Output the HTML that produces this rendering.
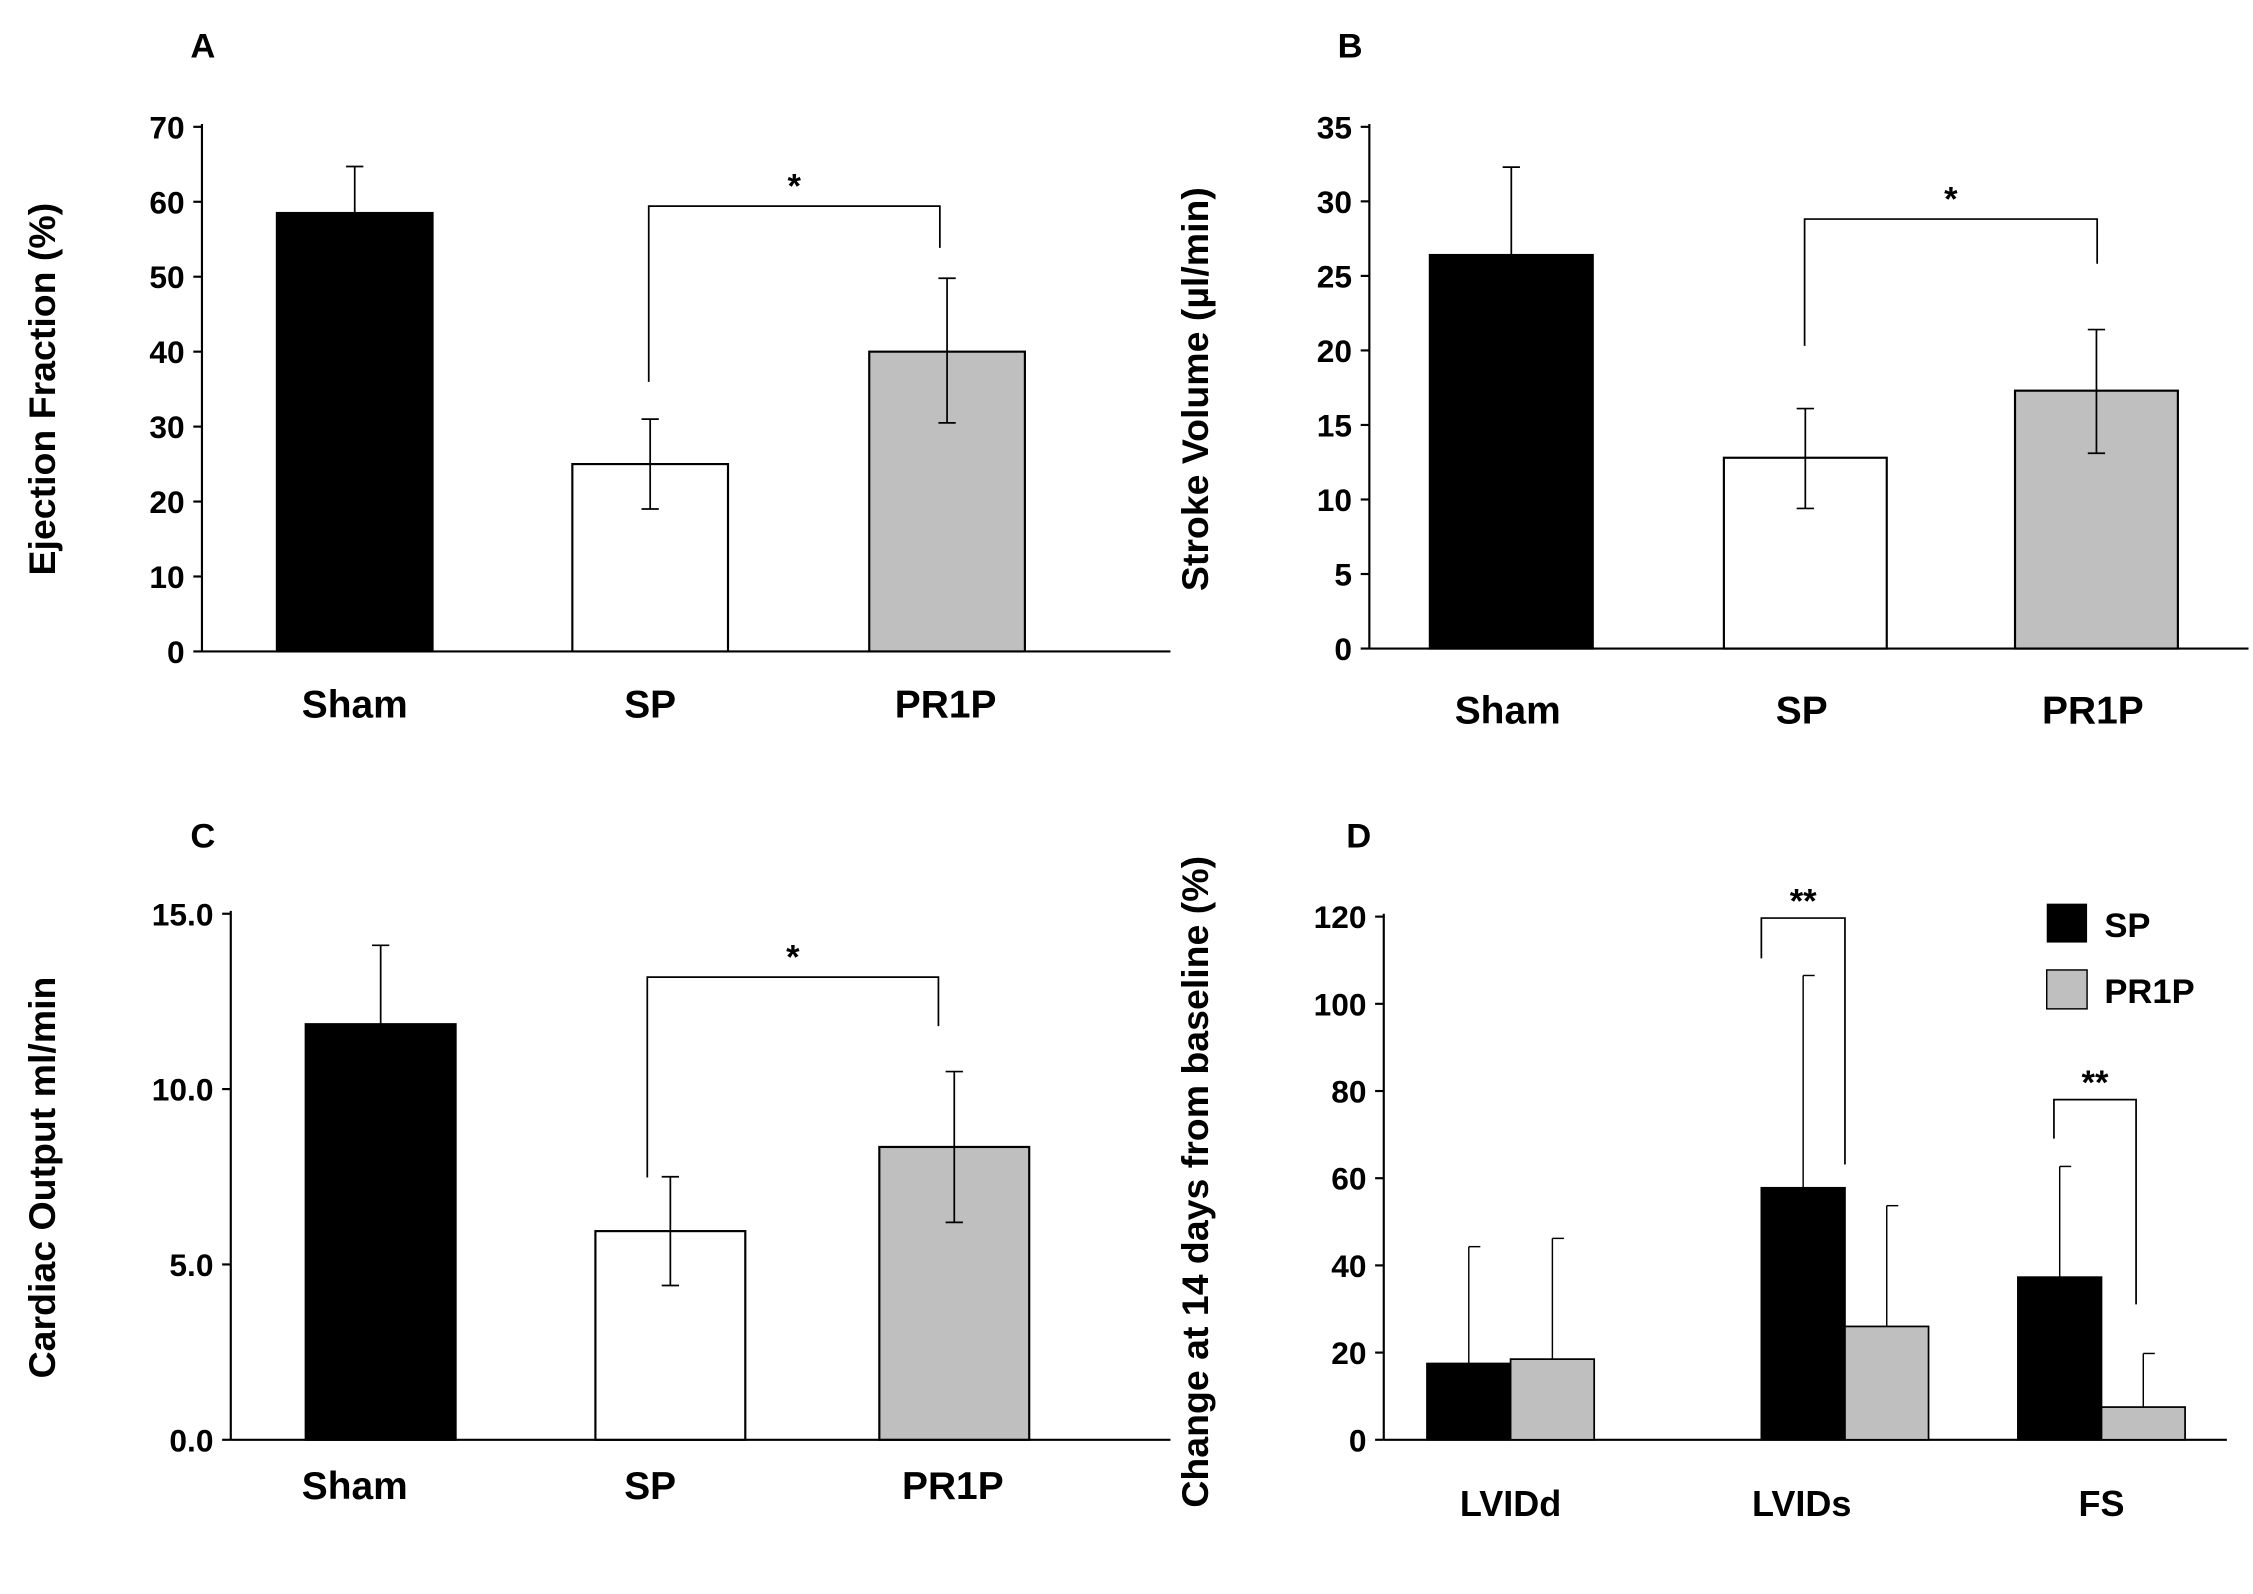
<!DOCTYPE html>
<html><head><meta charset="utf-8"><style>
html,body{margin:0;padding:0;background:#fff}
svg{display:block}
text{font-family:"Liberation Sans",Arial,sans-serif;font-weight:bold;fill:#000}
</style></head><body>
<svg id="fig" width="2253" height="1594" viewBox="0 0 1563 1106" xmlns="http://www.w3.org/2000/svg"></svg>
<script>
// Panel A
const aCats=["Sham","SP","PR1P"], aVals=[58.5,25,40], aErrHi=[64.7,31,49.8], aErrLo=[58.5,19,30.5];
// Panel B
const bCats=["Sham","SP","PR1P"], bVals=[26.4,12.8,17.3], bErrHi=[32.3,16.1,21.4], bErrLo=[26.4,9.4,13.1];
// Panel C
const cCats=["Sham","SP","PR1P"], cVals=[11.85,5.95,8.35], cErrHi=[14.1,7.5,10.5], cErrLo=[11.85,4.4,6.2];
// Panel D
const dCats=["LVIDd","LVIDs","FS"], dSP=[17.5,57.8,37.3], dSPErr=[44.3,106.5,62.7], dPR=[18.5,26,7.5], dPRErr=[46.2,53.7,19.8];
const aTicks=[0,10,20,30,40,50,60,70], bTicks=[0,5,10,15,20,25,30,35], cTicks=[0,5,10,15], dTicks=[0,20,40,60,80,100,120];
const fills=["#000","#fff","#bfbfbf"];
const svg=document.getElementById('fig');
const NS="http://www.w3.org/2000/svg";
function el(t,a,txt){const e=document.createElementNS(NS,t);for(const k in a)e.setAttribute(k,a[k]);if(txt!==undefined)e.textContent=txt;svg.appendChild(e);return e;}
function axes(p,ticks,fmt,name){
  const ax=el('line',{x1:p.x0,y1:p.yTop-2,x2:p.x0,y2:p.y0,stroke:'#000','stroke-width':1.5});
  
  const xa=el('line',{x1:p.x0,y1:p.y0,x2:p.xEnd,y2:p.y0,stroke:'#000','stroke-width':1.5});
  
  ticks.forEach(t=>{const y=p.y(t);
    el('line',{x1:p.x0-6,y1:y,x2:p.x0,y2:y,stroke:'#000','stroke-width':1.5});
    const l=el('text',{x:p.x0-12,y:y+8,'text-anchor':'end','font-size':22},fmt(t));
    });
}
function scale(y0,yTop,max){return v=>y0-(y0-yTop)*v/max;}
function panel3(name,p,cats,vals,hi,lo,bx,bw,lx,ly,br){
  cats.forEach((c,i)=>{
    const y=p.y(vals[i]);
    const r=el('rect',{x:bx[i],y:y,width:bw,height:p.y0-y,fill:fills[i],stroke:'#000','stroke-width':1.5});
    
    const cx=bx[i]+bw/2;
    el('line',{x1:cx,y1:p.y(hi[i]),x2:cx,y2:p.y(lo[i]),stroke:'#000','stroke-width':1.2});
    el('line',{x1:cx-6,y1:p.y(hi[i]),x2:cx+6,y2:p.y(hi[i]),stroke:'#000','stroke-width':1.2});
    if(lo[i]<vals[i])el('line',{x1:cx-6,y1:p.y(lo[i]),x2:cx+6,y2:p.y(lo[i]),stroke:'#000','stroke-width':1.2});
    const t=el('text',{x:lx[i],y:ly,'text-anchor':'middle','font-size':27},c);
    
  });
  const b=el('polyline',{points:`${br[0]},${br[1]} ${br[0]},${br[2]} ${br[3]},${br[2]} ${br[3]},${br[4]}`,fill:'none',stroke:'#000','stroke-width':1.2});
  
  const s=el('text',{x:(br[0]+br[3])/2,y:br[2]-6,'text-anchor':'middle','font-size':24},'*');
  
}
function title(x,y,txt,name){const t=el('text',{x:x,y:y,'text-anchor':'middle','font-size':26,transform:`rotate(-90 ${x} ${y})`},txt);
  }
function letter(x,y,t){const e=el('text',{x:x,y:y,'font-size':24},t);}

// A
let pA={x0:140,y0:452,yTop:88,xEnd:812};pA.y=scale(452,88,70);
axes(pA,aTicks,t=>t,'panel-a');
panel3('panel-a',pA,aCats,aVals,aErrHi,aErrLo,[192,397,603],108,[246,451,656],498,[450,265,143,652,172]);
title(38,270,'Ejection Fraction (%)','panel-a-y-axis-title');letter(132,40,'A');
// B
let pB={x0:950,y0:450,yTop:88,xEnd:1560};pB.y=scale(450,88,35);
axes(pB,bTicks,t=>t,'panel-b');
panel3('panel-b',pB,bCats,bVals,bErrHi,bErrLo,[992,1196,1398],113,[1046,1250,1452],502,[1252,240,152,1455,183]);
title(838,270,'Stroke Volume (\u00b5l/min)','panel-b-y-axis-title');letter(928,40,'B');
// C
let pC={x0:160,y0:999,yTop:634,xEnd:812};pC.y=scale(999,634,15);
axes(pC,cTicks,t=>t.toFixed(1),'panel-c');
panel3('panel-c',pC,cCats,cVals,cErrHi,cErrLo,[212,413,610],104,[246,451,661],1040,[449,817,678,651,712]);
title(38,817,'Cardiac Output ml/min','panel-c-y-axis-title');letter(132,588,'C');
// D
let pD={x0:960,y0:999,yTop:636,xEnd:1545};pD.y=scale(999,636,120);
axes(pD,dTicks,t=>t,'panel-d');
const dX=[990,1222,1400], dLx=[1048,1250,1458], bwD=58;
dCats.forEach((c,i)=>{
  [[dSP,dSPErr,'#000','sp',0],[dPR,dPRErr,'#bfbfbf','pr1p',bwD]].forEach(s=>{
    const x=dX[i]+s[4], y=pD.y(s[0][i]);
    const r=el('rect',{x:x,y:y,width:bwD,height:pD.y0-y,fill:s[2],stroke:'#000','stroke-width':1.2});
    
    const cx=x+bwD/2,ey=pD.y(s[1][i]);
    el('line',{x1:cx,y1:ey,x2:cx,y2:y,stroke:'#000','stroke-width':1});
    el('line',{x1:cx,y1:ey,x2:cx+8,y2:ey,stroke:'#000','stroke-width':1});
  });
  const t=el('text',{x:dLx[i],y:1052,'text-anchor':'middle','font-size':25},c);
  
});
[[1222,665,637,1280,808],[1425,790,763,1482,905]].forEach(br=>{
  const b=el('polyline',{points:`${br[0]},${br[1]} ${br[0]},${br[2]} ${br[3]},${br[2]} ${br[3]},${br[4]}`,fill:'none',stroke:'#000','stroke-width':1.2});
  
  const s=el('text',{x:(br[0]+br[3])/2,y:br[2]-4,'text-anchor':'middle','font-size':24},'**');
  
});
let lg=el('rect',{x:1420,y:627,width:28,height:27,fill:'#000'});

let lt=el('text',{x:1460,y:650,'font-size':24},'SP');

lg=el('rect',{x:1420,y:673,width:28,height:27,fill:'#bfbfbf',stroke:'#000','stroke-width':1});

lt=el('text',{x:1460,y:696,'font-size':24},'PR1P');

title(838,820,'Change at 14 days from baseline (%)','panel-d-y-axis-title');letter(934,588,'D');
</script>
</body></html>
